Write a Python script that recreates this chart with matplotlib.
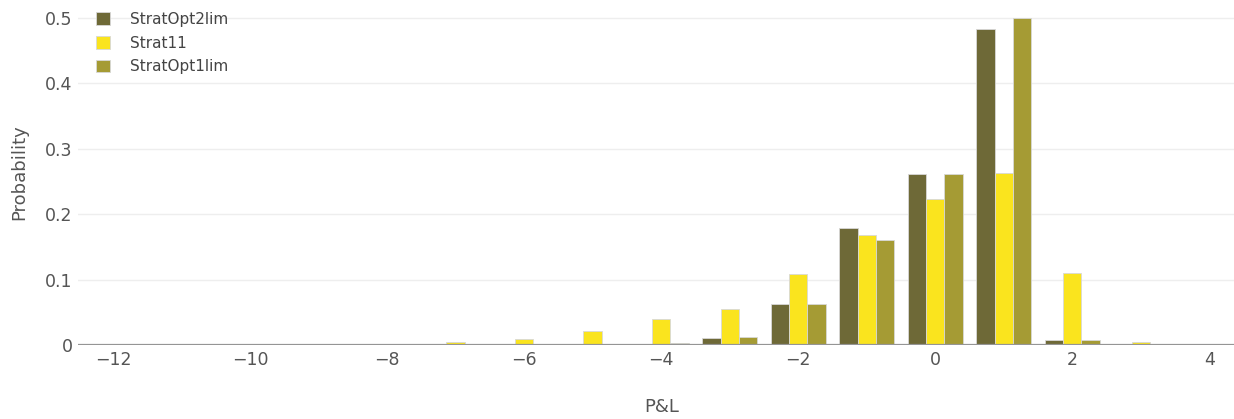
import matplotlib
matplotlib.use("Agg")
from matplotlib import pyplot as plt
import numpy as np

# P&L buckets and probabilities per strategy
pnl = np.arange(-12, 4)
strat_opt2lim = [0, 0, 0, 0, 0, 0, 0, 0.0008, 0.002, 0.011, 0.063, 0.179, 0.261, 0.483, 0.007, 0]
strat11 = [0, 0, 0, 0, 0, 0.005, 0.009, 0.022, 0.039, 0.055, 0.109, 0.168, 0.223, 0.262, 0.110, 0.005]
strat_opt1lim = [0, 0, 0, 0, 0, 0, 0, 0, 0.003, 0.012, 0.062, 0.161, 0.261, 0.500, 0.008, 0]

names = ["StratOpt2lim", "Strat11", "StratOpt1lim"]
colors = ["#6e6937", "#fae41e", "#a59b34"]

fig = plt.figure(figsize=(12.34, 4.19), dpi=100)
ax = fig.add_axes([0.0632, 0.1766, 0.9368, 0.8234])

w = 0.8 / 3
series = [strat_opt2lim, strat11, strat_opt1lim]
handles = []
for k, (vals, c, n) in enumerate(zip(series, colors, names)):
    b = ax.bar(pnl + (k - 1) * w, vals, width=w, color=c, edgecolor="#d8d8d8",
               linewidth=0.6, label=n, zorder=3)
    handles.append(b)

ax.set_xlim(-12.51, 4.36)
ax.set_ylim(0, 0.527)
ax.set_yticks([0, 0.1, 0.2, 0.3, 0.4, 0.5])
ax.set_yticklabels(["0", "0.1", "0.2", "0.3", "0.4", "0.5"])
ax.set_xticks(np.arange(-12, 5, 2))
ax.set_xticklabels(["\u2212" + str(abs(v)) if v < 0 else str(v) for v in range(-12, 5, 2)])

ax.grid(axis="y", color="#eeeeee", linewidth=1, zorder=0)
ax.axhline(0, color="#959595", linewidth=1.6, zorder=4)
for s in ax.spines.values():
    s.set_visible(False)
ax.tick_params(axis="both", length=0, labelsize=12.5, labelcolor="#555555")
ax.tick_params(axis="x", pad=4)
ax.tick_params(axis="y", pad=4)

fig.text(0.536, 0.008, "P&L", fontsize=13, color="#555555", ha="center", va="bottom")
fig.text(0.008, 0.59, "Probability", fontsize=13, color="#555555", rotation=90,
         ha="left", va="center")

ax.legend(handles=handles, loc="upper left", bbox_to_anchor=(0.004, 1.005),
          frameon=False, fontsize=11, labelcolor="#444444", handlelength=0.9,
          handleheight=0.9, handletextpad=1.3, labelspacing=0.56)

fig.savefig("out.png", dpi=100)
